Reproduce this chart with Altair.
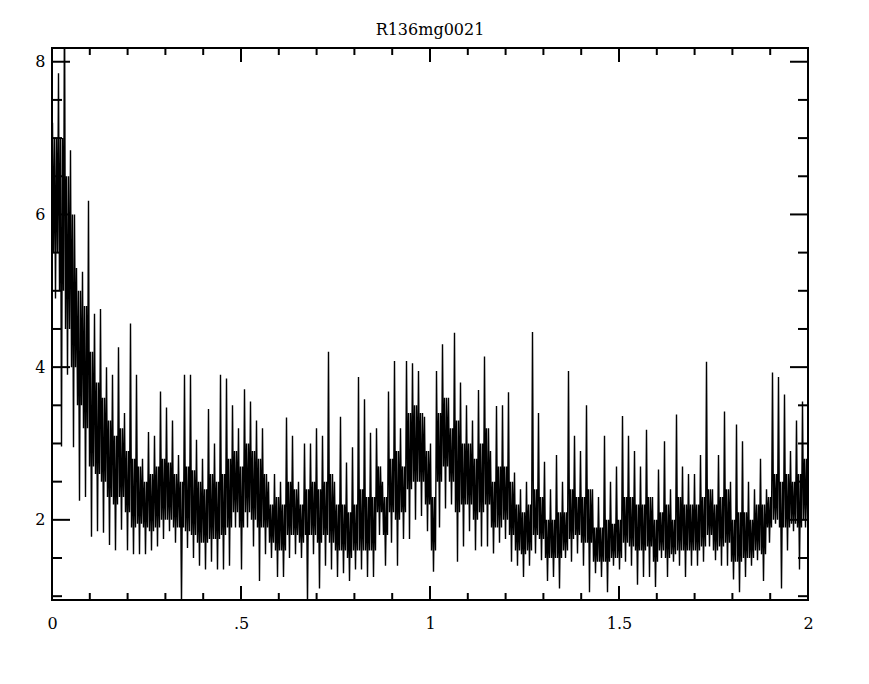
import altair as alt
import pandas as pd

TITLE = "R136mg0021"

# Per column (6 px wide, 126 columns across 0..2): extreme high, core low, core high, extreme low
hi = [7.2, 7.85, 9.0, 6.84, 5.3, 5.25, 6.18, 4.7, 4.76, 4.0,
      3.9, 4.26, 3.4, 4.57, 3.9, 2.8, 3.15, 3.1, 3.68, 3.47,
      3.3, 2.85, 3.9, 3.9, 3.05, 2.8, 3.45, 3.0, 3.9, 3.85,
      3.5, 3.2, 3.71, 3.55, 3.3, 3.2, 2.5, 2.6, 2.5, 3.34,
      3.1, 2.5, 3.0, 3.0, 3.2, 3.1, 4.2, 2.5, 3.35, 2.75,
      2.95, 3.87, 3.58, 3.14, 3.2, 2.5, 3.68, 4.08, 3.2, 4.08,
      4.05, 3.95, 3.35, 3.0, 3.95, 4.3, 3.6, 4.45, 3.8, 3.5,
      3.3, 3.7, 4.14, 2.9, 3.49, 3.5, 3.67, 2.62, 2.4, 2.5,
      4.46, 3.4, 2.76, 2.4, 2.85, 2.5, 3.95, 3.1, 2.9, 3.5,
      2.4, 2.3, 3.1, 2.5, 2.7, 3.36, 3.1, 2.9, 2.7, 3.18,
      2.3, 2.66, 3.03, 2.4, 3.38, 2.7, 2.6, 2.6, 2.85, 4.07,
      2.4, 2.85, 3.42, 2.5, 3.25, 3.03, 2.5, 2.4, 2.8, 2.4,
      3.93, 3.87, 3.64, 2.9, 3.3, 3.55]

core_lo = [5.5, 5.0, 4.5, 4.0, 3.5, 3.2, 2.7, 2.6, 2.5, 2.3,
           2.2, 2.3, 2.1, 1.9, 1.95, 1.9, 1.85, 1.9, 2.0, 2.0,
           1.9, 1.9, 1.85, 1.8, 1.7, 1.7, 1.75, 1.75, 1.8, 1.9,
           2.1, 1.9, 2.1, 2.0, 1.9, 1.9, 1.7, 1.6, 1.6, 1.8,
           1.8, 1.7, 1.8, 1.8, 1.7, 1.8, 1.7, 1.6, 1.6, 1.5,
           1.6, 1.6, 1.6, 1.6, 2.1, 1.8, 2.1, 2.0, 2.1, 2.4,
           2.5, 2.5, 2.2, 1.6, 2.5, 2.7, 2.5, 2.1, 2.2, 2.2,
           2.0, 2.1, 2.2, 1.9, 1.9, 2.0, 1.8, 1.6, 1.55, 1.6,
           1.8, 1.75, 1.5, 1.5, 1.5, 1.6, 1.75, 1.8, 1.7, 1.7,
           1.45, 1.45, 1.45, 1.5, 1.5, 1.7, 1.65, 1.6, 1.6, 1.65,
           1.45, 1.6, 1.5, 1.55, 1.6, 1.6, 1.6, 1.6, 1.65, 1.8,
           1.6, 1.65, 1.7, 1.45, 1.45, 1.5, 1.5, 1.6, 1.55, 1.9,
           2.0, 1.9, 1.9, 1.95, 1.9, 2.0]

core_hi = [7.0, 7.0, 6.5, 6.0, 5.0, 4.8, 4.2, 3.8, 3.6, 3.3,
           3.1, 3.2, 2.9, 2.8, 2.7, 2.5, 2.6, 2.7, 2.8, 2.75,
           2.6, 2.5, 2.7, 2.65, 2.5, 2.4, 2.6, 2.5, 2.6, 2.8,
           2.9, 2.7, 3.0, 2.9, 2.8, 2.6, 2.2, 2.3, 2.2, 2.5,
           2.4, 2.2, 2.4, 2.5, 2.4, 2.5, 2.6, 2.2, 2.2, 2.1,
           2.2, 2.4, 2.3, 2.3, 2.7, 2.3, 2.8, 2.9, 2.7, 3.4,
           3.5, 3.4, 2.9, 2.3, 3.4, 3.6, 3.2, 3.3, 3.0, 3.0,
           2.8, 3.0, 3.2, 2.5, 2.7, 2.7, 2.5, 2.2, 2.1, 2.2,
           2.4, 2.3, 2.0, 2.0, 2.1, 2.1, 2.4, 2.3, 2.3, 2.4,
           1.9, 1.9, 2.0, 1.95, 2.0, 2.3, 2.3, 2.2, 2.2, 2.3,
           2.0, 2.1, 2.2, 2.0, 2.3, 2.2, 2.2, 2.2, 2.3, 2.4,
           2.2, 2.3, 2.4, 2.0, 2.1, 2.1, 2.0, 2.2, 2.2, 2.3,
           2.6, 2.5, 2.6, 2.5, 2.6, 2.8]

lo = [4.9, 2.96, 3.9, 2.95, 2.25, 2.3, 1.78, 1.85, 1.83, 1.67,
      1.6, 1.87, 1.6, 1.55, 1.55, 1.55, 1.6, 1.65, 1.75, 1.85,
      1.7, 0.9, 1.63, 1.5, 1.4, 1.35, 1.45, 1.35, 1.35, 1.4,
      1.9, 1.35, 1.9, 1.65, 1.2, 1.55, 1.5, 1.25, 1.25, 1.5,
      1.55, 1.5, 0.9, 1.55, 1.1, 1.4, 1.35, 1.25, 1.3, 1.2,
      1.35, 1.35, 1.25, 1.25, 1.8, 1.4, 1.7, 1.4, 1.75, 1.75,
      2.0, 2.05, 1.85, 1.32, 1.9, 2.15, 2.2, 1.45, 1.65, 1.85,
      1.6, 1.65, 1.65, 1.56, 1.7, 1.75, 1.45, 1.4, 1.25, 1.4,
      1.56, 1.47, 1.2, 1.25, 1.1, 1.5, 1.45, 1.56, 1.4, 1.05,
      1.3, 1.25, 1.05, 1.4, 1.35, 1.45, 1.4, 1.15, 1.25, 1.25,
      1.12, 1.5, 1.25, 1.45, 1.4, 1.25, 1.4, 1.4, 1.45, 1.65,
      1.47, 1.4, 1.4, 1.22, 1.05, 1.25, 1.4, 1.47, 1.2, 1.7,
      1.95, 1.1, 1.6, 1.85, 1.35, 1.9]

x_label_values = [0, 0.5, 1, 1.5, 2]
x_label_text = ["0", ".5", "1", "1.5", "2"]
y_label_values = [2, 4, 6, 8]
x_major_ticks = [0.5, 1.0, 1.5]
x_minor_ticks = [0.1, 0.2, 0.3, 0.4, 0.6, 0.7, 0.8, 0.9,
                 1.1, 1.2, 1.3, 1.4, 1.6, 1.7, 1.8, 1.9]
y_major_ticks = [2, 4, 6, 8]
y_minor_ticks = [1.0, 1.5, 2.5, 3.0, 3.5, 4.5, 5.0, 5.5, 6.5, 7.0, 7.5]

W, H = 756, 552
X_DOMAIN = [0, 2]
Y_DOMAIN = [0.95, 8.18]
FONT = "DejaVu Serif"

# trace each column: extreme high, core band, extreme low, back through the core
ys = []
for a, b, c, d in zip(hi, core_lo, core_hi, lo):
    ys += [a, b, c, d, c, b]
n = len(ys)
df = pd.DataFrame({"f": [(i + 0.5) * 2 / n for i in range(n)], "p": ys})

xs = alt.Scale(domain=X_DOMAIN, nice=False, zero=False)
yscl = alt.Scale(domain=Y_DOMAIN, nice=False, zero=False)

label_expr = " : ".join(
    f"datum.value == {v} ? '{t}'" for v, t in zip(x_label_values, x_label_text)
) + " : datum.label"

x_axis = alt.Axis(values=x_label_values, labelExpr=label_expr, domain=False,
                  ticks=False, tickSize=0, grid=False, labelPadding=15,
                  labelFont=FONT, labelFontSize=16, labelColor="black",
                  title=None, labelFlush=False, labelOverlap=False)
y_axis = alt.Axis(values=y_label_values, format="d", domain=False, ticks=False,
                  tickSize=0, grid=False, labelPadding=7, labelFont=FONT,
                  labelFontSize=16, labelColor="black", title=None,
                  labelFlush=False, labelOverlap=False)

line = alt.Chart(df).mark_line(color="black", strokeWidth=1.4, clip=True).encode(
    x=alt.X("f:Q", scale=xs, axis=x_axis),
    y=alt.Y("p:Q", scale=yscl, axis=y_axis),
)


def xticks(vals, length):
    d = pd.DataFrame({"v": vals})
    base = alt.Chart(d).mark_rule(color="black", strokeWidth=2)
    bottom = base.encode(x=alt.X("v:Q", scale=xs, axis=x_axis),
                         y=alt.value(H), y2=alt.value(H - length))
    top = base.encode(x=alt.X("v:Q", scale=xs, axis=x_axis),
                      y=alt.value(0), y2=alt.value(length))
    return [bottom, top]


def yticks(vals, length):
    d = pd.DataFrame({"v": vals})
    base = alt.Chart(d).mark_rule(color="black", strokeWidth=2)
    left = base.encode(y=alt.Y("v:Q", scale=yscl, axis=y_axis),
                       x=alt.value(0), x2=alt.value(length))
    right = base.encode(y=alt.Y("v:Q", scale=yscl, axis=y_axis),
                        x=alt.value(W), x2=alt.value(W - length))
    return [left, right]


title_df = pd.DataFrame({"t": [TITLE]})
title_mark = alt.Chart(title_df).mark_text(
    font=FONT, fontSize=16, color="black", align="center",
    baseline="alphabetic", clip=False,
).encode(text="t:N", x=alt.value(W / 2), y=alt.value(-13))

layers = [line] + xticks(x_major_ticks, 14) + xticks(x_minor_ticks, 7) \
    + yticks(y_major_ticks, 18) + yticks(y_minor_ticks, 10) + [title_mark]

chart = alt.layer(*layers).properties(
    width=W, height=H,
    autosize=alt.AutoSizeParams(type="none"),
    padding={"left": 44, "top": 40, "right": 50, "bottom": 70},
).configure_view(stroke="black", strokeWidth=2)

chart.save("out.html", embed_options={"renderer": "svg", "actions": False})
